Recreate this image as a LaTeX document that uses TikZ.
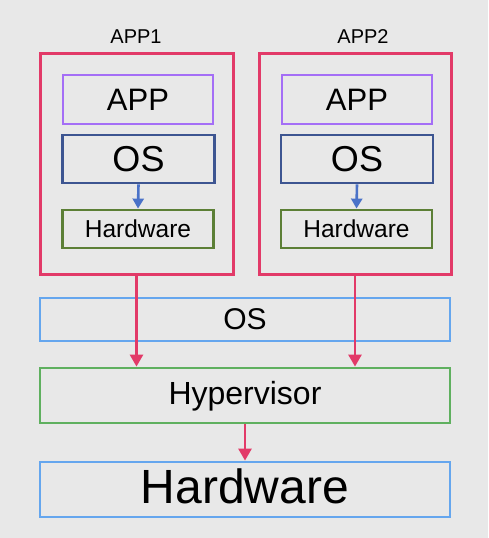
\documentclass[tikz,border=0pt]{standalone}
\usepackage{fontspec}
\setmainfont{Liberation Sans}
\usetikzlibrary{arrows.meta}
\definecolor{bg}{HTML}{E8E8E8}
\definecolor{cpink}{HTML}{E23A68}
\definecolor{cpurple}{HTML}{A46EF6}
\definecolor{cdblue}{HTML}{3D5591}
\definecolor{colive}{HTML}{5C7F36}
\definecolor{clblue}{HTML}{65A6EE}
\definecolor{cgreen}{HTML}{5FB05F}
\definecolor{carrow}{HTML}{4A72C8}
\tikzset{
  box/.style={draw, line width=2.8pt, rectangle, inner sep=0pt, text depth=0pt},
  outerbox/.style={draw=cpink, line width=3pt, rectangle, inner sep=0pt},
  redarrow/.style={draw=cpink, line width=2.6pt, -{Triangle[length=12pt,width=13pt]}},
  bluearrow/.style={draw=carrow, line width=2.6pt, -{Triangle[length=10pt,width=11pt]}},
  fs/.style={font=\fontsize{#1}{#1}\selectfont},
}
\begin{document}
\begin{tikzpicture}[x=1pt,y=-1pt]
\fill[bg] (0,0) rectangle (488,538);
\useasboundingbox (0,0) rectangle (488,538);
% APP1 column
\node[outerbox, minimum width=193pt, minimum height=221pt] (app1) at (136.5,163.5) {};
\node[fs=20, text height=14pt, text depth=0pt, inner sep=0pt] (lbl1) at (136,36) {APP1};
\node[box, draw=cpurple, minimum width=150pt, minimum height=49pt, fs=31, text height=22pt] (appa) at (138,99.5) {APP};
\node[box, draw=cdblue, minimum width=152pt, minimum height=48pt, fs=36, text height=26pt, text depth=2pt] (osa) at (138.5,159) {OS};
\node[box, draw=colive, minimum width=151pt, minimum height=38pt, fs=24.5, text height=17.5pt] (hwa) at (138,229) {Hardware};
% APP2 column
\node[outerbox, minimum width=192pt, minimum height=221pt] (app2) at (355,163.5) {};
\node[fs=20, text height=14pt, text depth=0pt, inner sep=0pt] (lbl2) at (363,36) {APP2};
\node[box, draw=cpurple, minimum width=150pt, minimum height=49pt, fs=31, text height=22pt] (appb) at (357,99.5) {APP};
\node[box, draw=cdblue, minimum width=152pt, minimum height=48pt, fs=36, text height=26pt, text depth=2pt] (osb) at (357,159) {OS};
\node[box, draw=colive, minimum width=151pt, minimum height=38pt, fs=24.5, text height=17.5pt] (hwb) at (356.5,229) {Hardware};
% lower stack
\node[box, draw=clblue, minimum width=410pt, minimum height=43pt, fs=30, text height=21.5pt, text depth=2pt] (os) at (245,319.5) {OS};
\node[box, draw=cgreen, minimum width=410pt, minimum height=55pt, fs=32, text height=23pt, text depth=5pt] (hyp) at (245,395.5) {Hypervisor};
\node[box, draw=clblue, minimum width=410pt, minimum height=55pt, fs=48, text height=34pt, text depth=6pt] (hw) at (245,489.5) {Hardware};
% arrows
\draw[bluearrow] (osa.south) -- (hwa.north);
\draw[bluearrow] (osb.south) -- (hwb.north);
\draw[redarrow] (app1.south) -- (app1.south |- hyp.north);
\draw[redarrow] (app2.south) -- (app2.south |- hyp.north);
\draw[redarrow] (hyp.south) -- (hw.north);
\end{tikzpicture}
\end{document}
